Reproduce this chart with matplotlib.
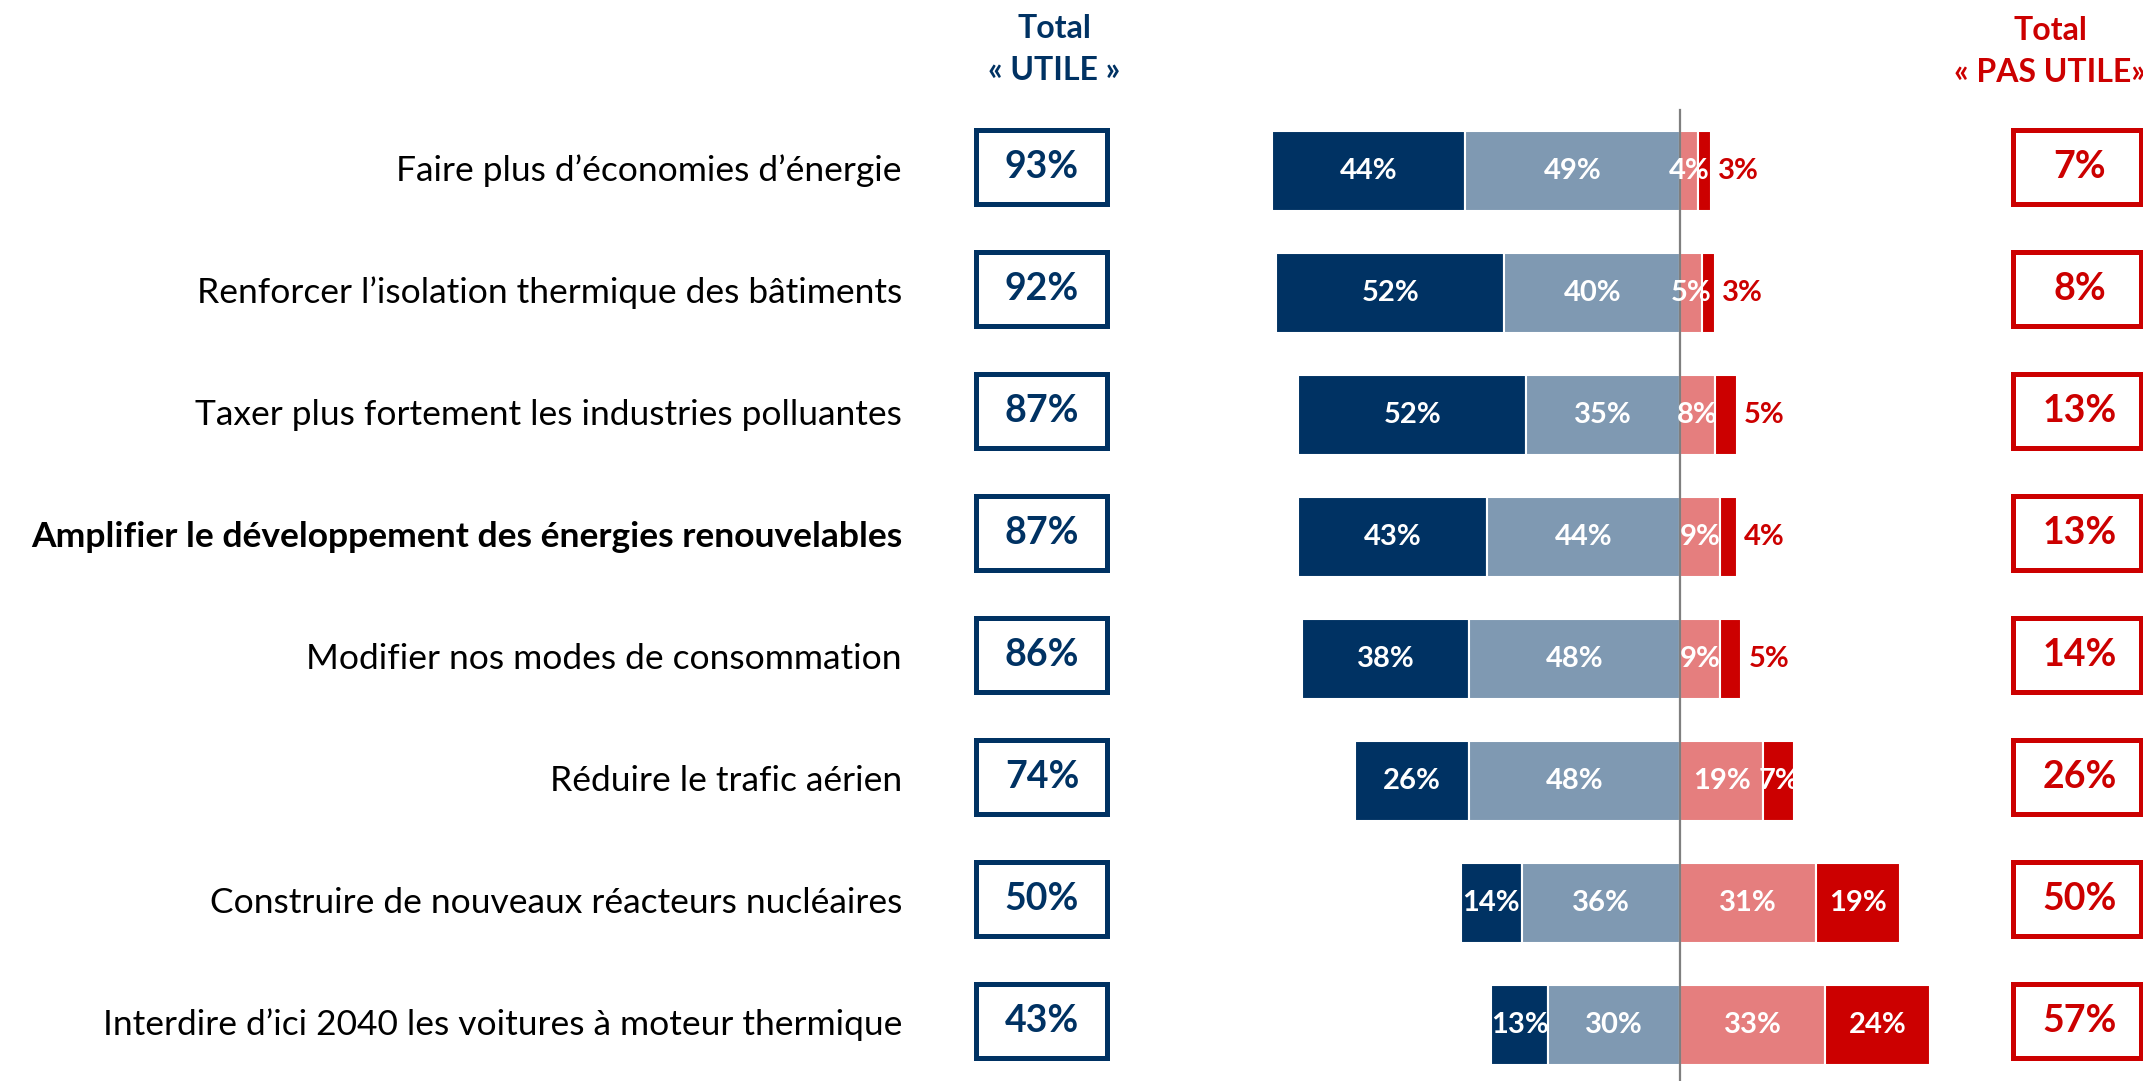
import matplotlib
matplotlib.use("Agg")
import matplotlib.pyplot as plt
import matplotlib.transforms as mtransforms
from matplotlib.patches import Rectangle

plt.rcParams['font.family'] = ['Lato', 'DejaVu Sans']

categories = [
    "Faire plus d’économies d’énergie",
    "Renforcer l’isolation thermique des bâtiments",
    "Taxer plus fortement les industries polluantes",
    "Amplifier le développement des énergies renouvelables",
    "Modifier nos modes de consommation",
    "Réduire le trafic aérien",
    "Construire de nouveaux réacteurs nucléaires",
    "Interdire d’ici 2040 les voitures à moteur thermique",
]
bold_row = 3

tres_utile = [44, 52, 52, 43, 38, 26, 14, 13]
plutot_utile = [49, 40, 35, 44, 48, 48, 36, 30]
plutot_pas_utile = [4, 5, 8, 9, 9, 19, 31, 33]
pas_du_tout_utile = [3, 3, 5, 4, 5, 7, 19, 24]
total_utile = [93, 92, 87, 87, 86, 74, 50, 43]
total_pas_utile = [7, 8, 13, 13, 14, 26, 50, 57]

NAVY = '#003263'
STEEL = '#7f99b2'
PINK = '#e57e7e'
RED = '#cc0000'

W, H = 2143, 1081
fig = plt.figure(figsize=(W / 100, H / 100), dpi=100)

# bar axes: center line at x=1680 px, ~4.39 px per percent
px_per_pct = 4.39
x_lo, x_hi = -100, 64
ax_left = 1680 + x_lo * px_per_pct
ax_w = (x_hi - x_lo) * px_per_pct
ax = fig.add_axes([ax_left / W, 0, ax_w / W, 1])
ax.set_xlim(x_lo, x_hi)
ax.set_ylim(7 + (H - 1025) / 122, -171 / 122)
ax.axis('off')

ys = list(range(len(categories)))
neg_light = [-v for v in plutot_utile]
neg_dark = [-(a + b) for a, b in zip(tres_utile, plutot_utile)]

bh = 0.65
ax.barh(ys, tres_utile, left=neg_dark, height=bh, color=NAVY, edgecolor='white', linewidth=1.5)
ax.barh(ys, plutot_utile, left=neg_light, height=bh, color=STEEL, edgecolor='white', linewidth=1.5)
ax.barh(ys, plutot_pas_utile, left=0, height=bh, color=PINK, edgecolor='white', linewidth=1.5)
ax.barh(ys, pas_du_tout_utile, left=plutot_pas_utile, height=bh, color=RED, edgecolor='white', linewidth=1.5)

ax.plot([0, 0], [-0.5, ax.get_ylim()[0]], color='#7f7f7f', linewidth=1.6, zorder=5)

seg_kw = dict(ha='center', va='center', color='white', fontsize=21, fontweight='bold', zorder=6)
for i in ys:
    ax.text(neg_dark[i] + tres_utile[i] / 2, i, f"{tres_utile[i]}%", **seg_kw)
    ax.text(neg_light[i] + plutot_utile[i] / 2, i, f"{plutot_utile[i]}%", **seg_kw)
    ax.text(plutot_pas_utile[i] / 2, i, f"{plutot_pas_utile[i]}%", **seg_kw)
    end = plutot_pas_utile[i] + pas_du_tout_utile[i]
    if pas_du_tout_utile[i] >= 7:
        ax.text(plutot_pas_utile[i] + pas_du_tout_utile[i] / 2, i,
                f"{pas_du_tout_utile[i]}%", **seg_kw)
    else:
        ax.text(end + 1.6, i, f"{pas_du_tout_utile[i]}%", ha='left', va='center',
                color=RED, fontsize=21, fontweight='bold', zorder=6)

# labels and total boxes, x in figure fraction, y in data rows
trans = mtransforms.blended_transform_factory(fig.transFigure, ax.transData)
box_h = 74 / 122
box_dy = -0.03
for i in ys:
    ax.text(902 / W, i, categories[i], transform=trans, ha='right', va='center',
            fontsize=25.5, color='black',
            fontweight='bold' if i == bold_row else 'normal')
    ax.add_patch(Rectangle((976 / W, i + box_dy - box_h / 2), 131 / W, box_h, transform=trans,
                           fill=False, edgecolor=NAVY, linewidth=3.6, clip_on=False))
    ax.text(1042 / W, i + box_dy, f"{total_utile[i]}%", transform=trans, ha='center',
            va='center', fontsize=27, fontweight='bold', color=NAVY)
    ax.add_patch(Rectangle((2013 / W, i + box_dy - box_h / 2), 128 / W, box_h, transform=trans,
                           fill=False, edgecolor=RED, linewidth=3.6, clip_on=False))
    ax.text(2080 / W, i + box_dy, f"{total_pas_utile[i]}%", transform=trans, ha='center',
            va='center', fontsize=27, fontweight='bold', color=RED)

fig.text(1054 / W, 1 - 28 / H, "Total", ha='center', va='center', fontsize=23,
         fontweight='bold', color=NAVY)
fig.text(1054 / W, 1 - 70 / H, "« UTILE »", ha='center', va='center', fontsize=23,
         fontweight='bold', color=NAVY)
fig.text(2050 / W, 1 - 30 / H, "Total", ha='center', va='center', fontsize=23,
         fontweight='bold', color=RED)
fig.text(2050 / W, 1 - 72 / H, "« PAS UTILE»", ha='center', va='center', fontsize=23,
         fontweight='bold', color=RED)

fig.savefig("out.png", dpi=100)
